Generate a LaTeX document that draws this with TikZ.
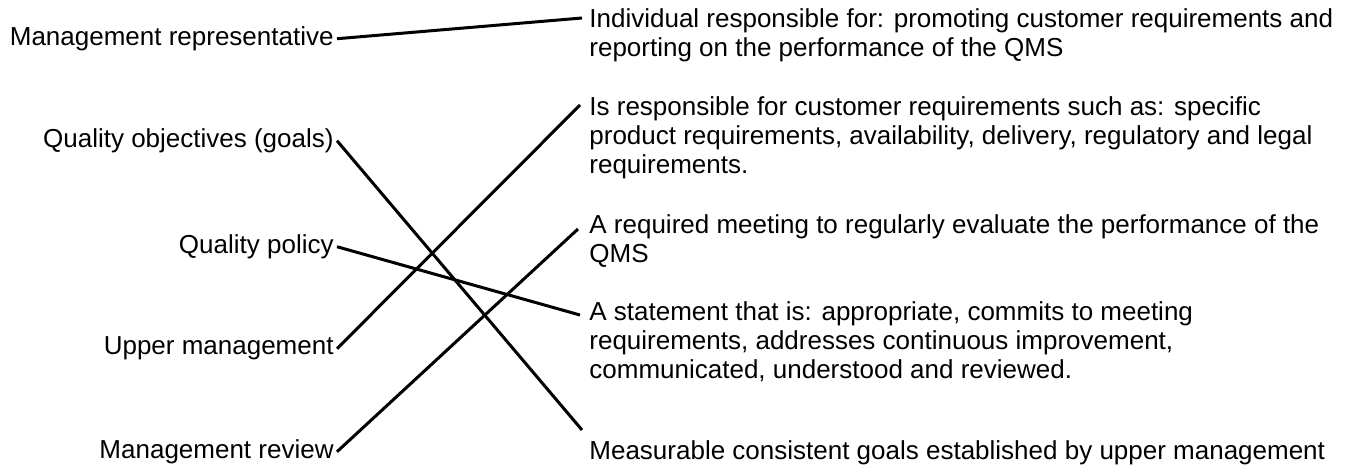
\documentclass[tikz,border=0pt]{standalone}
\usepackage{fontspec}
\setmainfont{Liberation Sans}
\usetikzlibrary{calc}

\begin{document}
\begin{tikzpicture}[x=0.5pt,y=-0.5pt,
        term/.style={inner sep=0pt,anchor=base east,font=\fontsize{13}{14.65}\selectfont},
        meaning/.style={inner sep=0pt,anchor=base west,font=\fontsize{13}{14.65}\selectfont},
        link/.style={line width=1.5pt}]
    \useasboundingbox (0,0) rectangle (1352,466);

    % terms on the left
    \node[term] (rep)    at (334,45)  {Management representative};
    \node[term] (qobj)   at (334,147) {Quality objectives (goals)};
    \node[term] (qpol)   at (334,253) {Quality policy};
    \node[term] (upper)  at (334,354) {Upper management};
    \node[term] (review) at (334,458) {Management review};

    % meanings on the right
    \node[meaning] (indiv) at (589,27) {\begin{tabular}[t]{@{}l@{}}
        Individual responsible for: promoting customer requirements and\\
        reporting on the performance of the QMS
        \end{tabular}};
    \node[meaning] (custreq) at (589,115) {\begin{tabular}[t]{@{}l@{}}
        Is responsible for customer requirements such as: specific\\
        product requirements, availability, delivery, regulatory and legal\\
        requirements.
        \end{tabular}};
    \node[meaning] (meeting) at (589,233) {\begin{tabular}[t]{@{}l@{}}
        A required meeting to regularly evaluate the performance of the\\
        QMS
        \end{tabular}};
    \node[meaning] (statement) at (589,320) {\begin{tabular}[t]{@{}l@{}}
        A statement that is: appropriate, commits to meeting\\
        requirements, addresses continuous improvement,\\
        communicated, understood and reviewed.
        \end{tabular}};
    \node[meaning] (goals) at (589,459) {Measurable consistent goals established by upper management};

    % matching lines
    \draw[link] ($(rep.mid east)+(3,-1)$)    -- ($(indiv.base west)+(-7,-9)$);
    \draw[link] ($(qobj.mid east)+(3,-1)$)   -- ($(goals.base west)+(-7,-29)$);
    \draw[link] ($(qpol.mid east)+(3,-1)$)   -- ($(statement.base west)+(-9,-5)$);
    \draw[link] ($(upper.mid east)+(3,0)$)   -- ($(custreq.base west)+(-9,-10)$);
    \draw[link] ($(review.mid east)+(3,-1)$) -- ($(meeting.base west)+(-11,-4)$);
\end{tikzpicture}
\end{document}
